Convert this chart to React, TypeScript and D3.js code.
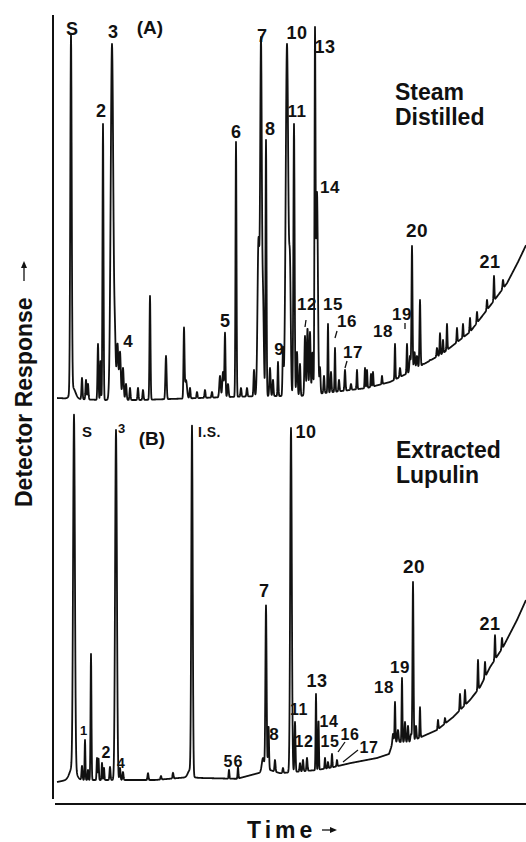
import React, { useMemo } from 'react';
import * as d3 from 'd3';

// Gas chromatograms of hop oil: (A) steam distilled, (B) extracted lupulin.
// Peaks as [retention time, apex response, sigma].

const WIDTH = 526;
const HEIGHT = 842;
const FONT = '"Liberation Sans", Arial, sans-serif';
const INK = '#111';

// ---- Panel A: Steam Distilled ----
const baselineA = [
  [0, 0.5], [4.3, 0], [8.3, 0], [14.3, 0.5], [20.3, 1], [24.3, 1], [28.3, 2.2],
  [31, 3], [33.3, 4.5], [35.3, 7], [38.6, 11.7], [41.3, 17], [43.6, 24.5],
  [45, 29.2], [46.1, 34.5], [46.9, 38.7],
];

const peaksA = [
  [1.4, 89.5, 0.07], [1.6, 3, 0.25], [2.5, 5.5, 0.05], [2.9, 5, 0.05], [3.1, 4, 0.05],
  [4.1, 14, 0.05], [4.35, 10, 0.04], [4.6, 69, 0.05], [5.5, 89, 0.13],
  [5.8, 13, 0.08], [6.05, 14, 0.08], [6.3, 12, 0.08], [6.6, 8, 0.07], [6.9, 4, 0.06],
  [7.3, 3, 0.05], [8.1, 3, 0.05], [8.6, 2.5, 0.05], [9.3, 26, 0.05], [10.9, 11, 0.06],
  [12.7, 17.5, 0.05], [12.9, 5, 0.1], [13.3, 3, 0.05], [14.0, 2, 0.05], [14.8, 2.5, 0.05],
  [15.5, 2, 0.05], [16.3, 6, 0.07], [16.6, 7, 0.07], [16.8, 16.7, 0.05], [17.1, 4, 0.06],
  [17.9, 64.5, 0.05], [18.4, 3, 0.05], [19.0, 3, 0.05], [19.7, 7.5, 0.05],
  [20.15, 40, 0.1], [20.4, 88, 0.08], [20.6, 25, 0.08], [20.9, 65, 0.05],
  [21.3, 8, 0.06], [21.6, 5, 0.05], [22.1, 9.5, 0.04], [22.6, 12.5, 0.05],
  [23.0, 89, 0.13], [23.3, 30, 0.08], [23.7, 69, 0.06], [24.0, 12, 0.06], [24.3, 9, 0.05],
  [24.8, 16, 0.06], [25.05, 18, 0.06], [25.3, 17, 0.06], [25.55, 12, 0.06],
  [25.8, 89, 0.05], [26.0, 52, 0.09], [26.3, 8, 0.05], [26.7, 6, 0.05],
  [27.1, 19, 0.04], [27.4, 7, 0.05], [27.8, 13, 0.04], [28.2, 5, 0.05],
  [28.8, 7.5, 0.05], [29.4, 4, 0.05], [30.0, 7.5, 0.04], [30.8, 8, 0.04],
  [31.0, 7.5, 0.04], [31.4, 6.5, 0.04], [31.6, 7, 0.04], [32.5, 6, 0.04],
  [33.8, 14, 0.04], [34.3, 8, 0.05], [35.0, 14, 0.04], [35.3, 11, 0.06],
  [35.5, 38.5, 0.05], [35.75, 12, 0.06], [36.0, 11, 0.06], [36.3, 25, 0.05],
  [36.6, 9, 0.05], [37.3, 10, 0.05], [38.0, 13, 0.05], [38.3, 16.7, 0.04],
  [38.6, 15, 0.04], [39.0, 19, 0.04], [40.0, 18, 0.04], [40.6, 19, 0.04],
  [41.3, 20.5, 0.04], [42.0, 22, 0.04], [43.0, 25, 0.04], [43.7, 31, 0.04],
  [44.6, 30, 0.05],
];

// [text, t, r, anchor, size]
const labelsA = [
  ['S', 1.5, 91.25, 'middle', 18], ['2', 4.4, 70.75, 'middle', 18], ['3', 5.6, 90.5, 'middle', 18],
  ['(A)', 9.3, 91.5, 'middle', 19], ['4', 7.1, 13.25, 'middle', 17], ['5', 16.8, 18.25, 'middle', 18],
  ['6', 17.9, 65.5, 'middle', 18], ['7', 20.5, 89.5, 'middle', 18], ['8', 21.3, 66.25, 'middle', 18],
  ['9', 22.2, 11.25, 'middle', 17], ['10', 24, 90.25, 'middle', 18], ['11', 24, 70.75, 'middle', 17],
  ['12', 25, 22.5, 'middle', 17], ['13', 26.8, 86.75, 'middle', 18], ['14', 27.3, 51.75, 'middle', 17],
  ['15', 27.6, 22.5, 'middle', 17], ['16', 29, 18.25, 'middle', 17], ['17', 29.6, 10.5, 'middle', 17],
  ['18', 32.6, 15.75, 'middle', 17], ['19', 34.5, 20, 'middle', 17], ['20', 36, 40.75, 'middle', 19],
  ['21', 43.3, 33, 'middle', 18],
];
const titleA = [['Steam', 33.8, 75], ['Distilled', 33.8, 68.75]];
const leadersA = [
  [24.9, 20, 24.8, 18.25], [28, 17.25, 27.8, 15.5], [29, 9.75, 28.8, 8], [34.8, 19.25, 34.8, 17.75],
];

// ---- Panel B: Extracted Lupulin ----
const baselineB = [
  [0, 0], [1.0, 0.5], [6.5, 0.5], [9.8, 0.5], [13.1, 1.2], [14.5, 1], [18, 0.8],
  [21.3, 3], [22.3, 2.2], [26, 3], [27.6, 3.7], [29.3, 4.7], [32, 6], [33.2, 7],
  [33.6, 10], [35.3, 10], [36.2, 11], [38, 13], [39.6, 16.2], [41.3, 20.5],
  [42.3, 23.7], [43.3, 28.7], [44.6, 33.7], [46, 40.5], [46.9, 45.5],
];

const peaksB = [
  [1.6, 4, 0.3], [1.7, 88.5, 0.09], [2.5, 4, 0.05], [2.8, 10.5, 0.04], [3.1, 3, 0.04],
  [3.4, 32, 0.045], [4.0, 6, 0.04], [4.15, 6, 0.04], [4.5, 4.8, 0.04], [4.7, 3.5, 0.04],
  [5.3, 3.8, 0.05], [5.9, 88, 0.09], [6.3, 3.5, 0.05], [6.6, 2.5, 0.05], [9.1, 2.2, 0.05],
  [10.4, 1.5, 0.05], [11.6, 2.3, 0.05], [13.3, 3, 0.2], [13.5, 88, 0.07],
  [17.2, 3, 0.04], [18.1, 3.7, 0.04], [19.3, 1.5, 0.05], [20.6, 6, 0.12],
  [20.9, 44, 0.06], [21.15, 14, 0.05], [21.8, 5.5, 0.05], [22.6, 3.5, 0.05],
  [23.4, 88.5, 0.08], [23.8, 15, 0.05], [24.3, 4.7, 0.05], [24.6, 5.5, 0.05],
  [25.0, 6, 0.05], [25.9, 22, 0.04], [26.15, 15.5, 0.04], [26.8, 6, 0.04],
  [27.1, 5, 0.04], [27.5, 7, 0.04], [28.0, 5.5, 0.04], [33.6, 12, 0.06],
  [33.8, 20, 0.04], [34.1, 13, 0.06], [34.5, 26, 0.04], [34.8, 15, 0.05],
  [35.1, 14, 0.05], [35.4, 12, 0.06], [35.6, 50, 0.05], [35.9, 14, 0.05],
  [36.3, 18.7, 0.04], [38.1, 15.5, 0.04], [38.8, 16, 0.04], [40.3, 22, 0.04],
  [40.8, 23, 0.04], [42.1, 30.5, 0.04], [42.8, 30, 0.04], [43.8, 36.7, 0.04],
  [44.5, 36, 0.04],
];

const labelsB = [
  ['S', 2.5, 86.25, 'start', 15], ['3', 6.1, 87.25, 'start', 13], ['(B)', 9.5, 84.25, 'middle', 19],
  ['I.S.', 14.1, 86.25, 'start', 14], ['1', 2.65, 11.75, 'middle', 13], ['2', 4.9, 6, 'middle', 16],
  ['4', 6.4, 3.5, 'middle', 14], ['5', 17.1, 3.75, 'middle', 16], ['6', 18.1, 3.75, 'middle', 16],
  ['7', 20.7, 46.25, 'middle', 18], ['8', 21.7, 10.5, 'middle', 17], ['10', 24.9, 86, 'middle', 18],
  ['11', 24.2, 16.75, 'middle', 16], ['12', 24.7, 8.75, 'middle', 16], ['13', 26, 23.75, 'middle', 18],
  ['14', 27.2, 13.75, 'middle', 16], ['15', 27.3, 8.75, 'middle', 16], ['16', 29.3, 10.5, 'middle', 16],
  ['17', 31.2, 7.25, 'middle', 16], ['18', 32.7, 22.25, 'middle', 17], ['19', 34.3, 27.25, 'middle', 17],
  ['20', 35.7, 52.25, 'middle', 19], ['21', 43.3, 38, 'middle', 18],
];
const titleB = [['Extracted', 33.9, 81], ['Lupulin', 33.9, 74.75]];
const leadersB = [[28.8, 10, 28.1, 7.5], [30.1, 8, 28.6, 5]];

const x = d3.scaleLinear().domain([0, 47]).range([57, 527]);
const yA = d3.scaleLinear().domain([0, 90]).range([400, 40]);
const yB = d3.scaleLinear().domain([0, 88.5]).range([782, 428]);

function tracePath(baseline, peaks, y) {
  const base = d3
    .scaleLinear()
    .domain(baseline.map((d) => d[0]))
    .range(baseline.map((d) => d[1]))
    .clamp(true);
  const heights = peaks.map(([t, apex, s]) => [t, Math.max(0, apex - base(t)), s]);
  const pts = d3.range(0, 46.92, 0.02).map((t) => {
    let v = base(t);
    for (const [c, h, s] of heights) {
      const z = (t - c) / s;
      if (Math.abs(z) < 6) v += h * Math.exp(-0.5 * z * z);
    }
    return [t, v];
  });
  return d3
    .line()
    .x((d) => x(d[0]))
    .y((d) => y(d[1]))(pts);
}

function Panel({ baseline, peaks, labels, title, leaders, y }) {
  const d = useMemo(() => tracePath(baseline, peaks, y), [baseline, peaks, y]);
  return (
    <g>
      <path d={d} fill="none" stroke={INK} strokeWidth={1.8} strokeLinejoin="round" />
      {labels.map(([text, t, r, anchor, size]) => (
        <text
          key={`${text}-${t}`}
          x={x(t)}
          y={y(r)}
          textAnchor={anchor}
          fontSize={size}
          fontWeight="bold"
          letterSpacing={text.length > 1 && text[0] !== '(' ? 0.5 : 0}
        >
          {text}
        </text>
      ))}
      {title.map(([text, t, r]) => (
        <text key={text} x={x(t)} y={y(r)} fontSize={23} fontWeight="bold">
          {text}
        </text>
      ))}
      {leaders.map(([t1, r1, t2, r2], i) => (
        <line key={i} x1={x(t1)} y1={y(r1)} x2={x(t2)} y2={y(r2)} stroke={INK} strokeWidth={1.3} />
      ))}
    </g>
  );
}

export default function App() {
  return (
    <svg
      width={WIDTH}
      height={HEIGHT}
      viewBox={`0 0 ${WIDTH} ${HEIGHT}`}
      style={{ position: 'absolute', left: 0, top: 0, background: '#fff' }}
      fontFamily={FONT}
      fill={INK}
    >
      <rect width={WIDTH} height={HEIGHT} fill="#fff" />
      {/* frame: response axis and time axis */}
      <line x1={53} x2={53} y1={15} y2={799} stroke={INK} strokeWidth={2} />
      <line x1={55} x2={526} y1={804} y2={804} stroke={INK} strokeWidth={2} />

      <Panel baseline={baselineA} peaks={peaksA} labels={labelsA} title={titleA} leaders={leadersA} y={yA} />
      <Panel baseline={baselineB} peaks={peaksB} labels={labelsB} title={titleB} leaders={leadersB} y={yB} />

      <text transform="translate(32,507) rotate(-90)" fontSize={23} fontWeight="bold">
        Detector Response
      </text>
      <line x1={24} x2={24} y1={281} y2={266} stroke={INK} strokeWidth={1.3} />
      <path d="M24,261 L21,268 L27,268 Z" />

      <text x={247} y={838} fontSize={23} fontWeight="bold" letterSpacing={4}>
        Time
      </text>
      <line x1={322} x2={332} y1={830} y2={830} stroke={INK} strokeWidth={1.3} />
      <path d="M337,830 L330,827 L330,833 Z" />
    </svg>
  );
}
